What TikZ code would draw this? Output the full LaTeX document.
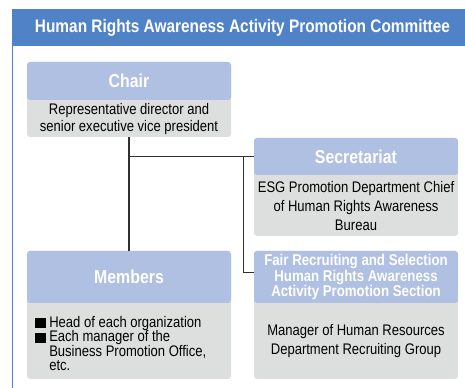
\documentclass[tikz,border=0pt]{standalone}
\usepackage{fontspec}
\setmainfont{Liberation Sans}[FakeStretch=0.85]
\usetikzlibrary{positioning}
\begin{document}
\begin{tikzpicture}[x=0.75pt,y=-0.75pt,font=\fontsize{11.5}{12.75}\selectfont]
  \definecolor{band}{HTML}{4F82C6}
  \definecolor{headblue}{HTML}{AFC0E2}
  \definecolor{pale}{HTML}{DDDEDE}
  \definecolor{linegray}{HTML}{303030}
  \tikzset{card/.style={fill=pale,rounded corners=2.25pt,minimum width=153pt,inner sep=0pt,
      path picture={\fill[headblue] (path picture bounding box.north west) rectangle ([yshift=-#1]path picture bounding box.north east);}},
    headtxt/.style={text=white,font=\fontsize{14}{15}\selectfont\bfseries,minimum width=153pt,align=center,inner sep=0pt},
    bodytxt/.style={align=center,minimum width=153pt,inner sep=0pt},
    wire/.style={draw=linegray,line width=0.8pt}}
  \useasboundingbox (0,0) rectangle (465,388);
  \node[fill=band,minimum width=345.75pt,minimum height=27.75pt,inner sep=0pt,text=white,font=\fontsize{13.6}{15}\selectfont\bfseries] (title) at (242.5,27.5) {Human Rights Awareness Activity Promotion Committee};
  \draw[band,line width=1pt] (12.5,46) -- (12.5,392);
  % chair
  \node[card=28.5pt,minimum height=56.25pt] (chair) at (129,99.5) {};
  \node[headtxt,minimum height=28.5pt,below=0pt of chair.north] (chairhead) {Chair};
  \node[bodytxt,minimum height=27.75pt,below=0pt of chairhead] (chairbody) {Representative director and\\senior executive vice president};
  % secretariat
  \node[card=27.75pt,minimum height=73.5pt] (secretariat) at (356,187) {};
  \node[headtxt,minimum height=27.75pt,below=0pt of secretariat.north] (sechead) {Secretariat};
  \node[bodytxt,minimum height=45.75pt,below=0pt of sechead,font=\fontsize{11.5}{13.9}\selectfont] (secbody) {ESG Promotion Department Chief\\of Human Rights Awareness\\Bureau};
  % members
  \node[card=39pt,minimum height=96pt] (members) at (129,315) {};
  \node[headtxt,minimum height=39pt,below=0pt of members.north] (memhead) {Members};
  \node[anchor=west,align=left,inner sep=0pt,font=\fontsize{11.5}{10.9}\selectfont] (membody) at (35,343.5) {\rule[-0.75pt]{8pt}{7.5pt}\hspace{2.5pt}Head of each organization\\\rule[-0.75pt]{8pt}{7.5pt}\hspace{2.5pt}Each manager of the\\\hspace{10.5pt}Business Promotion Office,\\\hspace{10.5pt}etc.};
  % fair recruiting section
  \node[card=39pt,minimum height=96pt] (fair) at (356,315) {};
  \node[headtxt,minimum height=39pt,below=0pt of fair.north,font=\fontsize{11.7}{11.8}\selectfont\bfseries] (fairhead) {Fair Recruiting and Selection\\Human Rights Awareness\\Activity Promotion Section};
  \node[bodytxt,minimum height=57pt,below=0pt of fairhead,font=\fontsize{11.5}{14.25}\selectfont] (fairbody) {Manager of Human Resources\\Department Recruiting Group};
  % connectors
  \coordinate (split) at ([xshift=-8pt]sechead.west);
  \draw[wire] (chair.south) -- (members.north);
  \draw[wire] (chair.south |- sechead.west) -- (sechead.west);
  \draw[wire] (split) |- ([yshift=3.2pt]fairhead.west);
\end{tikzpicture}
\end{document}
